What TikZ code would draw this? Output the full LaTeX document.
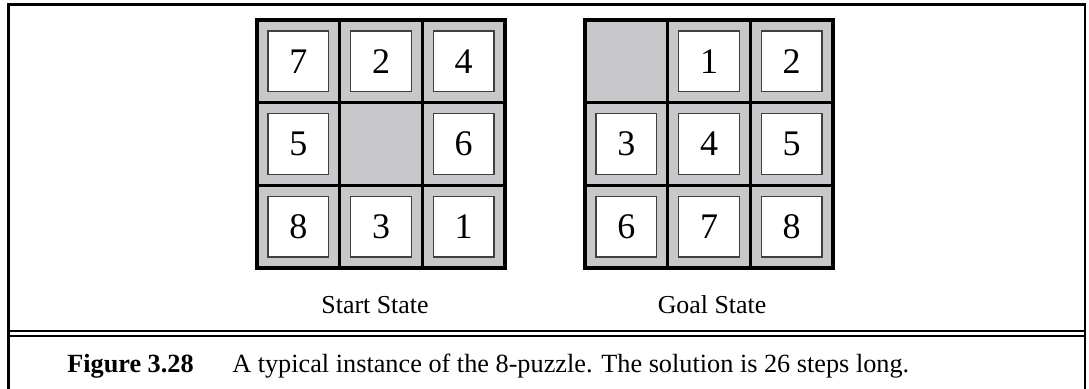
\documentclass[tikz,border=0pt]{standalone}
\usepackage{fontspec}
\setmainfont{Liberation Serif}
\usetikzlibrary{positioning}
\definecolor{boardgray}{RGB}{200,200,202}

\tikzset{
  tile/.style={draw=black!75, line width=0.9pt, fill=white, minimum size=45.5pt, inner sep=0pt, font=\fontsize{27}{27}\selectfont},
  boardline/.style={line width=2.3pt},
  statelabel/.style={font=\fontsize{19.4}{19.4}\selectfont, anchor=base},
  captext/.style={font=\fontsize{19.7}{19.7}\selectfont, anchor=base west, inner sep=0pt}
}

\begin{document}
\begin{tikzpicture}[x=0.75pt,y=-0.75pt]
\useasboundingbox (0,0) rectangle (1089,389);

% frame
\draw[line width=2.2pt] (8.5,389) -- (8.5,4.5) -- (1085,4.5) -- (1085,389);
\draw[line width=1.6pt] (8.5,331) -- (1085,331);
\draw[line width=1.6pt] (8.5,336) -- (1085,336);

% start board
\begin{scope}[shift={(257,20)}]
\fill[boardgray] (0,0) rectangle (248,248);
\foreach \n/\r/\c in {7/0/0, 2/0/1, 4/0/2, 5/1/0, 6/1/2, 8/2/0, 3/2/1, 1/2/2}
{
\node[tile] (s\n) at ({82.67*\c+41.33},{82.67*\r+41.33}) {\n};
}
\draw[boardline] (0,0) rectangle (248,248);
\foreach \i in {1,2}
{
\draw[boardline] ({82.67*\i},0) -- ({82.67*\i},248);
\draw[boardline] (0,{82.67*\i}) -- (248,{82.67*\i});
}
\end{scope}

% goal board
\begin{scope}[shift={(585,20)}]
\fill[boardgray] (0,0) rectangle (248,248);
\foreach \n/\r/\c in {1/0/1, 2/0/2, 3/1/0, 4/1/1, 5/1/2, 6/2/0, 7/2/1, 8/2/2}
{
\node[tile] (g\n) at ({82.67*\c+41.33},{82.67*\r+41.33}) {\n};
}
\draw[boardline] (0,0) rectangle (248,248);
\foreach \i in {1,2}
{
\draw[boardline] ({82.67*\i},0) -- ({82.67*\i},248);
\draw[boardline] (0,{82.67*\i}) -- (248,{82.67*\i});
}
\end{scope}

\node[statelabel] (start) at (375,313) {Start State};
\node[statelabel] (goal) at (712,313) {Goal State};

\node[captext] (fig) at (67,372) {\textbf{Figure 3.28}};
\node[captext] (cap) at (232,372) {A typical instance of the 8-puzzle. The solution is 26 steps long.};

\end{tikzpicture}
\end{document}
